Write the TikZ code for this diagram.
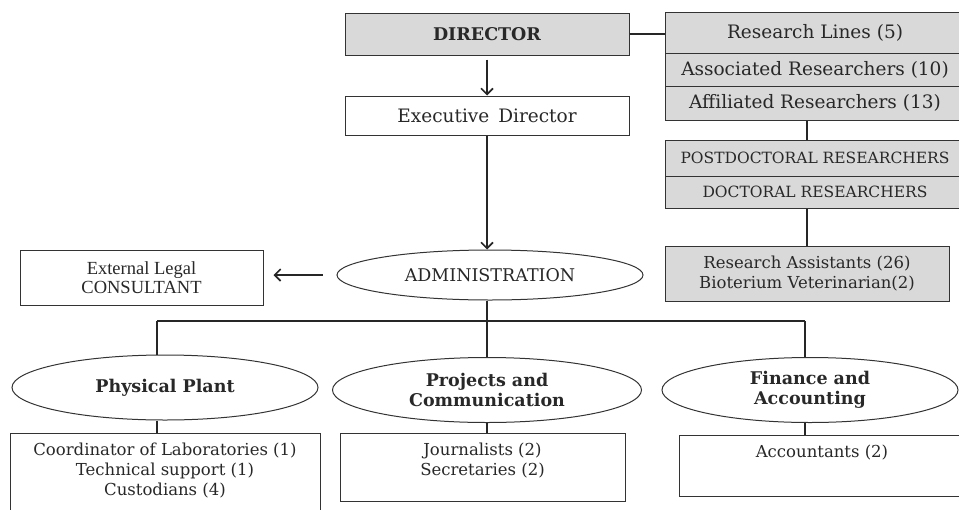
\documentclass[tikz,border=0pt]{standalone}
\usepackage{fontspec}
\setmainfont{DejaVu Serif}
\newfontfamily\timesfont{Liberation Serif}
\usetikzlibrary{arrows.meta,shapes.geometric}
\definecolor{boxgray}{RGB}{217,217,217}
\definecolor{txt}{RGB}{40,40,40}
\tikzset{
  gbox/.style={draw=black!80, line width=1pt, fill=boxgray, rectangle, inner sep=0pt, text=txt, font=\fontsize{17.5}{20}\selectfont},
  wbox/.style={draw=black!80, line width=1pt, fill=white, rectangle, inner sep=0pt, text=txt, font=\fontsize{17.5}{20}\selectfont},
  oval/.style={draw=black!80, line width=1pt, ellipse, inner sep=0pt, text=txt, align=center},
  conn/.style={draw=black!85, line width=1.6pt},
  arr/.style={conn, -{Straight Barb[length=6pt,width=12pt,line width=1.6pt]}},
  lbl/.style={text=txt, align=center, inner sep=0pt, font=\fontsize{16.5}{20}\selectfont}
}
\begin{document}
\begin{tikzpicture}[x=1pt,y=-1pt]
\useasboundingbox (0,0) rectangle (959,509);
\clip (0,0) rectangle (959,509);
% top
\node[gbox, minimum width=284pt, minimum height=42pt, font=\fontsize{17.5}{20}\selectfont\bfseries] (dir) at (487,34) {DIRECTOR};
\node[wbox, minimum width=284pt, minimum height=39pt, font=\fontsize{18.5}{20}\selectfont] (exec) at (487,115.5) {Executive\,\ Director};
% research stack
\node[gbox, minimum width=300pt, minimum height=41pt, font=\fontsize{18.5}{20}\selectfont] (rl) at (815,32.5) {Research Lines (5)};
\node[gbox, minimum width=300pt, minimum height=33pt, font=\fontsize{18.5}{20}\selectfont] (ar) at (815,69.5) {Associated Researchers (10)};
\node[gbox, minimum width=300pt, minimum height=34pt, font=\fontsize{18.5}{20}\selectfont] (afr) at (815,103) {Affiliated Researchers (13)};
\node[gbox, minimum width=300pt, minimum height=36pt, font=\fontsize{15.5}{18}\selectfont] (pd) at (815,158) {POSTDOCTORAL RESEARCHERS};
\node[gbox, minimum width=300pt, minimum height=32pt, font=\fontsize{15.5}{18}\selectfont] (dr) at (815,192) {DOCTORAL RESEARCHERS};
\node[gbox, minimum width=284pt, minimum height=55pt, align=center, font=\fontsize{16.5}{20}\selectfont] (ra) at (807,273.5) {Research Assistants (26)\\Bioterium Veterinarian(2)};
% administration
\node[wbox, minimum width=243pt, minimum height=55pt, align=center, font=\timesfont\fontsize{18.5}{19}\selectfont] (ext) at (141.5,277.5) {External Legal\\CONSULTANT};
\node[oval, minimum width=306pt, minimum height=50pt, font=\fontsize{17.5}{20}\selectfont] (adm) at (490,275) {ADMINISTRATION};
% departments
\node[oval, minimum width=306pt, minimum height=65pt, font=\fontsize{17.5}{20}\selectfont\bfseries] (pp) at (165,387.5) {\raisebox{-2pt}{Physical Plant}};
\node[oval, minimum width=309pt, minimum height=65pt, font=\fontsize{17.5}{20}\selectfont\bfseries] (pc) at (487,390) {Projects and\\Communication};
\node[oval, minimum width=296pt, minimum height=65pt, font=\fontsize{17.5}{20}\selectfont\bfseries] (fa) at (810,390) {Finance and\\Accounting};
% staff boxes
\node[wbox, minimum width=310pt, minimum height=90pt] (ppb) at (165,478) {};
\node[wbox, minimum width=285pt, minimum height=68pt] (pcb) at (482.5,467) {};
\node[wbox, minimum width=286pt, minimum height=61pt] (fab) at (822,465.5) {};
\node[lbl, anchor=north] (ppt) at ([yshift=-10pt]ppb.north) {Coordinator of Laboratories (1)\\Technical support (1)\\Custodians (4)};
\node[lbl, anchor=north] (pct) at ([yshift=-10pt]pcb.north) {Journalists (2)\\Secretaries (2)};
\node[lbl, anchor=north] (fat) at ([yshift=-10pt]fab.north) {Accountants (2)};
% bus coordinates
\coordinate (bL) at (157,321);
\coordinate (bM) at (487,321);
\coordinate (bR) at (805,321);
% connectors
\draw[conn] (dir.east) -- (dir.east -| rl.west);
\draw[arr, shorten <=4pt] (dir.south) -- (exec.north);
\draw[conn] (afr.south -| ra.north) -- (pd.north -| ra.north);
\draw[conn] (dr.south -| ra.north) -- (ra.north);
\draw[arr] (exec.south) -- (exec.south |- adm.north);
\draw[arr, shorten <=14pt, shorten >=10pt] (adm.west) -- (adm.west -| ext.east);
\draw[conn] (bM |- adm.south) -- (bM);
\draw[conn] (bL) -- (bR);
\draw[conn] (bL) -- (bL |- pp.north);
\draw[conn] (bM) -- (bM |- pc.north);
\draw[conn] (bR) -- (bR |- fa.north);
\draw[conn] (bL |- pp.south) -- (bL |- ppb.north);
\draw[conn] (bM |- pc.south) -- (bM |- pcb.north);
\draw[conn] (bR |- fa.south) -- (bR |- fab.north);
\end{tikzpicture}
\end{document}
